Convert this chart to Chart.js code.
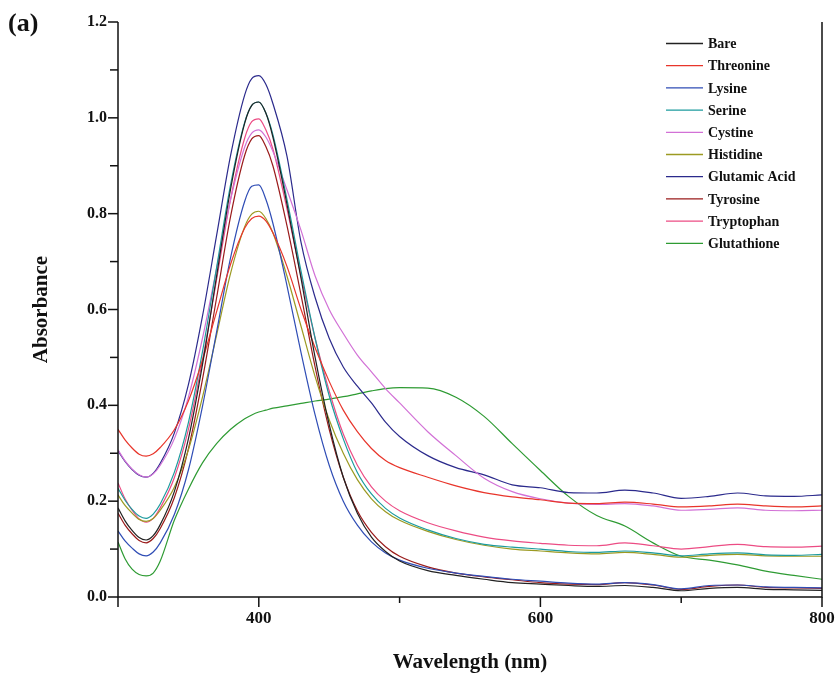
<!DOCTYPE html>
<html>
<head>
<meta charset="utf-8">
<script src="https://cdn.jsdelivr.net/npm/chart.js@4.4.0/dist/chart.umd.min.js"></script>
<style>
  html, body { margin: 0; padding: 0; background: #fff; }
  #wrap { width: 836px; height: 676px; }
</style>
</head>
<body>
<div id="wrap"><canvas id="absChart" width="836" height="676"></canvas></div>
<script>
// ---------------------------------------------
// Data
// ---------------------------------------------
const wavelengths = [300, 305, 310, 315, 320, 325, 330, 340, 350, 360, 370, 380, 390, 395, 400, 405, 410, 420, 430, 440, 450, 460, 470, 480, 490, 500, 520, 540, 560, 580, 600, 620, 640, 660, 680, 700, 720, 740, 760, 780, 800];

const bare       = [0.186, 0.159, 0.139, 0.124, 0.119, 0.128, 0.151, 0.220, 0.330, 0.485, 0.669, 0.852, 0.989, 1.026, 1.033, 1.010, 0.960, 0.820, 0.665, 0.500, 0.360, 0.250, 0.175, 0.125, 0.095, 0.075, 0.055, 0.045, 0.037, 0.030, 0.027, 0.024, 0.022, 0.024, 0.020, 0.013, 0.018, 0.020, 0.016, 0.015, 0.014];
const threonine  = [0.350, 0.328, 0.311, 0.298, 0.294, 0.299, 0.312, 0.349, 0.409, 0.494, 0.595, 0.695, 0.770, 0.790, 0.795, 0.785, 0.760, 0.690, 0.600, 0.520, 0.450, 0.390, 0.345, 0.310, 0.285, 0.270, 0.250, 0.232, 0.218, 0.209, 0.203, 0.196, 0.195, 0.198, 0.194, 0.188, 0.190, 0.194, 0.190, 0.188, 0.190];
const lysine     = [0.138, 0.117, 0.102, 0.090, 0.086, 0.094, 0.113, 0.172, 0.265, 0.398, 0.553, 0.709, 0.826, 0.857, 0.860, 0.830, 0.780, 0.650, 0.510, 0.380, 0.275, 0.200, 0.150, 0.115, 0.092, 0.077, 0.060, 0.050, 0.043, 0.037, 0.033, 0.029, 0.027, 0.030, 0.026, 0.017, 0.024, 0.025, 0.021, 0.020, 0.019];
const serine     = [0.227, 0.202, 0.183, 0.169, 0.164, 0.173, 0.194, 0.260, 0.364, 0.512, 0.687, 0.861, 0.991, 1.026, 1.033, 1.010, 0.965, 0.830, 0.680, 0.540, 0.420, 0.330, 0.260, 0.215, 0.185, 0.165, 0.140, 0.122, 0.110, 0.104, 0.100, 0.095, 0.093, 0.096, 0.092, 0.086, 0.090, 0.092, 0.088, 0.087, 0.089];
const cystine    = [0.307, 0.284, 0.267, 0.255, 0.250, 0.257, 0.275, 0.330, 0.417, 0.540, 0.685, 0.830, 0.939, 0.968, 0.975, 0.960, 0.930, 0.850, 0.765, 0.670, 0.600, 0.550, 0.505, 0.470, 0.435, 0.405, 0.345, 0.295, 0.248, 0.220, 0.205, 0.196, 0.193, 0.195, 0.190, 0.181, 0.183, 0.186, 0.181, 0.180, 0.181];
const histidine  = [0.213, 0.191, 0.175, 0.162, 0.158, 0.164, 0.181, 0.229, 0.307, 0.417, 0.546, 0.676, 0.773, 0.799, 0.805, 0.790, 0.760, 0.670, 0.565, 0.460, 0.370, 0.300, 0.245, 0.205, 0.178, 0.160, 0.137, 0.120, 0.108, 0.100, 0.096, 0.092, 0.090, 0.093, 0.089, 0.083, 0.087, 0.089, 0.086, 0.085, 0.085];
const glutamic   = [0.305, 0.283, 0.266, 0.254, 0.250, 0.258, 0.279, 0.342, 0.443, 0.586, 0.754, 0.922, 1.048, 1.082, 1.088, 1.070, 1.030, 0.920, 0.740, 0.625, 0.540, 0.480, 0.440, 0.405, 0.365, 0.335, 0.295, 0.270, 0.255, 0.234, 0.228, 0.218, 0.217, 0.223, 0.217, 0.206, 0.210, 0.217, 0.211, 0.210, 0.213];
const tyrosine   = [0.175, 0.150, 0.132, 0.118, 0.113, 0.122, 0.143, 0.207, 0.309, 0.454, 0.624, 0.795, 0.922, 0.956, 0.963, 0.940, 0.900, 0.775, 0.630, 0.480, 0.350, 0.250, 0.180, 0.135, 0.105, 0.085, 0.063, 0.050, 0.042, 0.036, 0.030, 0.027, 0.026, 0.030, 0.025, 0.016, 0.022, 0.025, 0.020, 0.019, 0.018];
const tryptophan = [0.238, 0.205, 0.181, 0.163, 0.156, 0.164, 0.186, 0.249, 0.350, 0.494, 0.662, 0.831, 0.958, 0.992, 0.998, 0.975, 0.935, 0.810, 0.670, 0.540, 0.430, 0.340, 0.275, 0.230, 0.200, 0.180, 0.155, 0.138, 0.125, 0.117, 0.112, 0.108, 0.107, 0.113, 0.107, 0.100, 0.105, 0.110, 0.105, 0.104, 0.106];
const glutathione = [0.115, 0.080, 0.058, 0.047, 0.044, 0.050, 0.075, 0.160, 0.225, 0.280, 0.320, 0.350, 0.372, 0.380, 0.386, 0.390, 0.394, 0.399, 0.404, 0.409, 0.413, 0.418, 0.424, 0.430, 0.435, 0.437, 0.436, 0.417, 0.377, 0.320, 0.264, 0.210, 0.170, 0.148, 0.113, 0.085, 0.077, 0.067, 0.054, 0.045, 0.037];

const seriesNames = ['Bare', 'Threonine', 'Lysine', 'Serine', 'Cystine', 'Histidine', 'Glutamic Acid', 'Tyrosine', 'Tryptophan', 'Glutathione'];
const seriesData = [bare, threonine, lysine, serine, cystine, histidine, glutamic, tyrosine, tryptophan, glutathione];
const seriesColors = ['#222222', '#E8352B', '#2F4DB5', '#1C9B9E', '#D271D6', '#9C9A22', '#2B2A8C', '#9A1B1B', '#EC4C84', '#2E9B33'];

const xLabels = [400, 600, 800];
const yLabels = [0, 0.2, 0.4, 0.6, 0.8, 1.0, 1.2];

const SERIF = '"Liberation Serif", "Times New Roman", serif';

// ---------------------------------------------
// Frame, ticks, titles and legend
// ---------------------------------------------
const framePlugin = {
    id: 'frame',
    afterDraw(chart) {
        const ctx = chart.ctx;
        const a = chart.chartArea;
        const xs = chart.scales.x;
        const ys = chart.scales.y;
        ctx.save();
        ctx.strokeStyle = '#111';
        ctx.lineWidth = 1.5;

        // box
        ctx.beginPath();
        ctx.moveTo(a.left, a.top);
        ctx.lineTo(a.left, a.bottom);
        ctx.lineTo(a.right, a.bottom);
        ctx.lineTo(a.right, a.top);
        ctx.stroke();

        // x ticks (outside)
        for (let v = 300; v <= 800; v += 100) {
            const px = xs.getPixelForValue(v);
            const len = xLabels.includes(v) || v === 300 ? 10 : 6;
            ctx.beginPath();
            ctx.moveTo(px, a.bottom);
            ctx.lineTo(px, a.bottom + len);
            ctx.stroke();
        }
        // y ticks (outside)
        for (let i = 0; i <= 12; i++) {
            const py = ys.getPixelForValue(i / 10);
            const len = i % 2 === 0 ? 10 : 8;
            ctx.beginPath();
            ctx.moveTo(a.left, py);
            ctx.lineTo(a.left - len, py);
            ctx.stroke();
        }

        // axis titles
        ctx.fillStyle = '#111';
        ctx.font = 'bold 21px ' + SERIF;
        ctx.textAlign = 'center';
        ctx.textBaseline = 'middle';
        ctx.fillText('Wavelength (nm)', (a.left + a.right) / 2, 663);
        ctx.save();
        ctx.translate(42, (a.top + a.bottom) / 2);
        ctx.rotate(-Math.PI / 2);
        ctx.fillText('Absorbance', 0, 0);
        ctx.restore();

        // panel letter
        ctx.font = 'bold 26px ' + SERIF;
        ctx.textAlign = 'left';
        ctx.fillText('(a)', 8, 24);

        // legend
        ctx.font = 'bold 14px ' + SERIF;
        ctx.textBaseline = 'middle';
        seriesNames.forEach((name, i) => {
            const y = 43.5 + i * 22.2;
            ctx.strokeStyle = seriesColors[i];
            ctx.lineWidth = 1.3;
            ctx.beginPath();
            ctx.moveTo(666, y);
            ctx.lineTo(703, y);
            ctx.stroke();
            ctx.fillStyle = '#111';
            ctx.fillText(name, 708, y + 1);
        });
        ctx.restore();
    }
};

// ---------------------------------------------
// Chart
// ---------------------------------------------
const datasets = seriesNames.map((name, i) => ({
    label: name,
    data: wavelengths.map((w, j) => ({ x: w, y: seriesData[i][j] })),
    borderColor: seriesColors[i],
    backgroundColor: seriesColors[i],
    borderWidth: 1.2,
    pointRadius: 0,
    cubicInterpolationMode: 'monotone',
    fill: false
}));

new Chart(document.getElementById('absChart'), {
    type: 'line',
    data: { datasets: datasets },
    options: {
        responsive: false,
        animation: false,
        events: [],
        layout: { padding: { top: 22, right: 14, left: 0, bottom: 0 } },
        plugins: {
            legend: { display: false },
            tooltip: { enabled: false }
        },
        scales: {
            x: {
                type: 'linear',
                min: 300,
                max: 800,
                grid: { display: false, drawTicks: false },
                border: { display: false },
                afterFit: s => { s.height = 79; s.paddingLeft = 0; s.paddingRight = 0; },
                afterBuildTicks: s => { s.ticks = xLabels.map(v => ({ value: v })); },
                ticks: {
                    padding: 11,
                    maxRotation: 0,
                    color: '#111',
                    font: { family: SERIF, size: 17, weight: 'bold' },
                    callback: v => String(v)
                }
            },
            y: {
                min: 0,
                max: 1.2,
                grid: { display: false, drawTicks: false },
                border: { display: false },
                afterFit: s => { s.width = 118; s.paddingTop = 0; s.paddingBottom = 0; },
                afterBuildTicks: s => { s.ticks = yLabels.map(v => ({ value: v })); },
                ticks: {
                    padding: 11,
                    color: '#111',
                    font: { family: SERIF, size: 16, weight: 'bold' },
                    callback: v => Number(v).toFixed(1)
                }
            }
        }
    },
    plugins: [framePlugin]
});
</script>
</body>
</html>
